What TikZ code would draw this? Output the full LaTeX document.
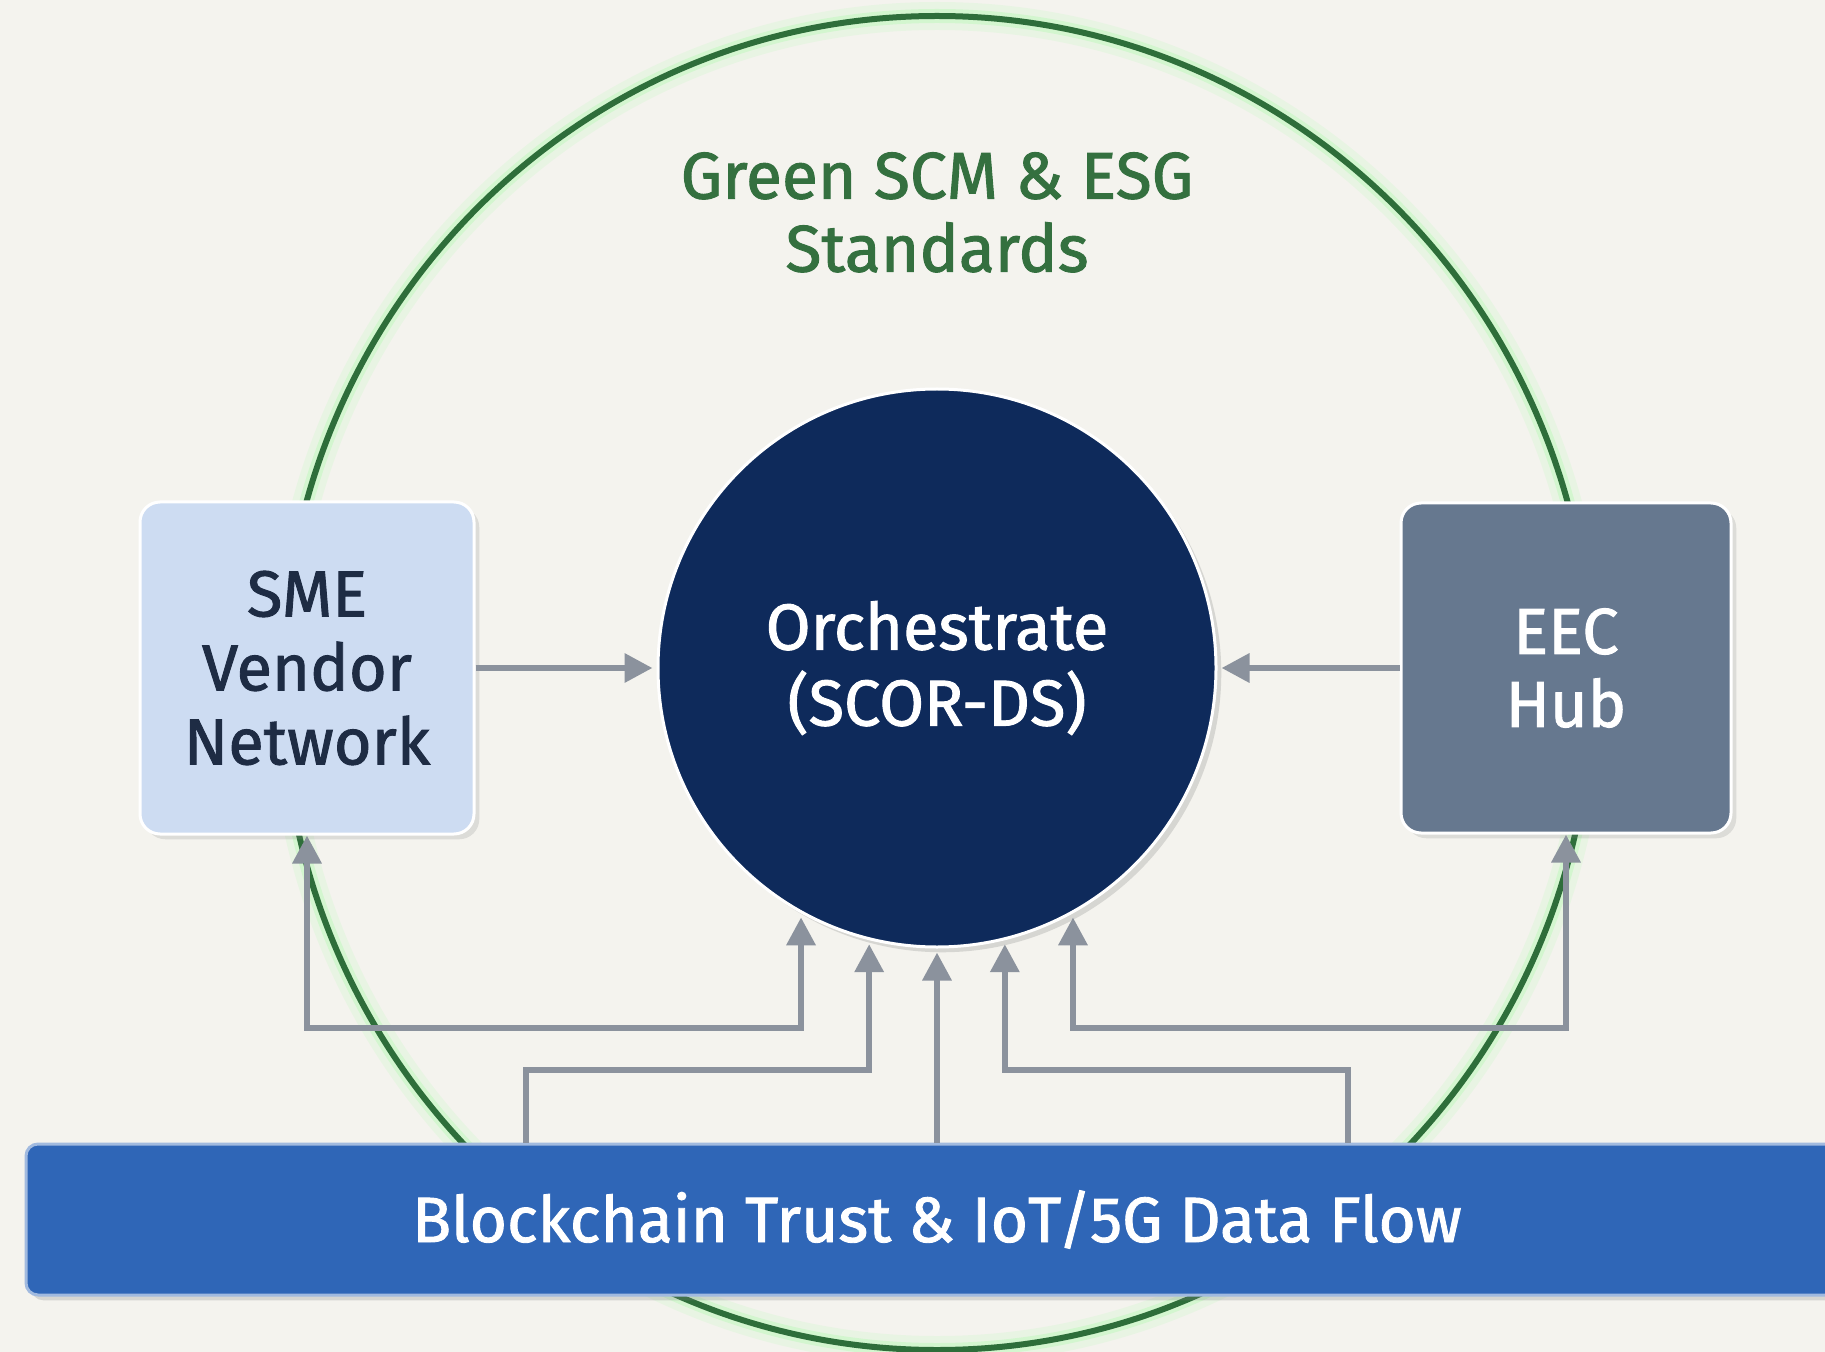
\documentclass[tikz,border=0pt]{standalone}
\usepackage{fontspec}
\setmainfont{Fira Sans}[FakeBold=1.4]
\usepackage{tikz}
\usetikzlibrary{arrows.meta, positioning, calc, backgrounds, shadows}

\definecolor{paper}{HTML}{F4F3EE}
\definecolor{ringgreen}{HTML}{2E6E3A}
\definecolor{titlegreen}{HTML}{34703F}
\definecolor{navy}{HTML}{0E2A5B}
\definecolor{smeblue}{HTML}{CDDCF2}
\definecolor{smetext}{HTML}{1E2C44}
\definecolor{slate}{HTML}{66788F}
\definecolor{barblue}{HTML}{2F66B7}
\definecolor{linkgray}{HTML}{8B929D}

\tikzstyle{core} = [circle, minimum size=279pt, fill=navy, draw=white, line width=1.5pt, text=white, align=center, font=\fontsize{32.5}{38}\selectfont, drop shadow={opacity=0.25}]
\tikzstyle{vendor} = [rectangle, rounded corners=10pt, minimum width=167pt, minimum height=166pt, fill=smeblue, draw=white, line width=1.5pt, text=smetext, align=center, font=\fontsize{32.5}{37}\selectfont, drop shadow={opacity=0.2}]
\tikzstyle{hub} = [rectangle, rounded corners=10pt, minimum width=165pt, minimum height=165pt, fill=slate, draw=white, line width=1.5pt, text=white, align=center, font=\fontsize{32.5}{36.5}\selectfont, drop shadow={opacity=0.2}]
\tikzstyle{band} = [rectangle, rounded corners=6pt, minimum width=911pt, minimum height=75.5pt, fill=barblue, draw=barblue!45!white, line width=1.5pt, text=white, font=\fontsize{32}{35}\selectfont, drop shadow={opacity=0.25}]
\tikzstyle{flow} = [linkgray, line width=3.2pt, shorten >=2pt, -{Triangle[width=14pt,length=14pt]}]
\tikzstyle{twoway} = [flow, {Triangle[width=14pt,length=14pt]}-{Triangle[width=14pt,length=14pt]}]

\begin{document}
\begin{tikzpicture}[x=0.5pt, y=-0.5pt]
    \useasboundingbox (0,0) rectangle (1825,1352);

    % Orchestrator
    \node (orch) [core] at (937,668) {Orchestrate\\(SCOR-DS)};

    % SME side
    \node (sme) [vendor, left=90.5pt of orch] {SME\\Vendor\\Network};

    % EEC side
    \node (eec) [hub, right=91pt of orch] {EEC\\Hub};

    % Data band
    \node (bar) [band, below=97pt of orch] {Blockchain Trust \& IoT/5G Data Flow};

    % Ring label
    \node (title) [above=54pt of orch, text=titlegreen, align=center, font=\fontsize{33}{36.5}\selectfont] {Green SCM \& ESG\\Standards};

    % Bus rows and taps
    \coordinate (busA) at (0,1028);
    \coordinate (busB) at (0,1070);
    \coordinate (tapL) at (526,0);
    \coordinate (tapR) at (1348,0);

    % Arrows
    \draw [flow] (sme.east) -- (orch.west);
    \draw [flow] (eec.west) -- (orch.east);
    \draw [twoway] (sme.south) |- (busA -| orch.-119) -- (orch.-119);
    \draw [flow] (bar.north -| tapL) |- (busB -| orch.-104) -- (orch.-104);
    \draw [flow] (bar.north) -- (orch.south);
    \draw [flow] (bar.north -| tapR) |- (busB -| orch.-76) -- (orch.-76);
    \draw [twoway] (eec.south) |- (busA -| orch.-61) -- (orch.-61);

    % Green ring
    \begin{pgfonlayer}{background}
        \fill [paper] (0,0) rectangle (1825,1352);
        \draw [green!40!white, opacity=0.12, line width=14pt] (937,683) ellipse [x radius=655, y radius=667];
        \draw [green!50!white, opacity=0.2, line width=7pt] (937,683) ellipse [x radius=655, y radius=667];
        \draw [ringgreen, line width=3pt] (937,683) ellipse [x radius=655, y radius=667];
    \end{pgfonlayer}
\end{tikzpicture}
\end{document}
